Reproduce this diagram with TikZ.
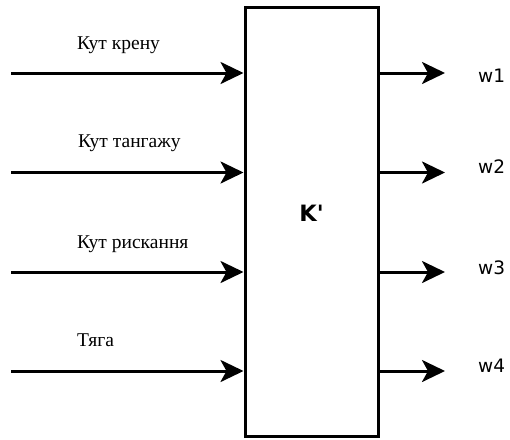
\documentclass[tikz,border=0pt]{standalone}
\usepackage{fontspec}
\setmainfont{Liberation Serif}
\newfontfamily\dvs{DejaVu Sans}
\usetikzlibrary{arrows.meta}
\begin{document}
\begin{tikzpicture}[x=1pt,y=-1pt,
  arr/.style={line width=3pt,-{Stealth[length=23pt,width=22pt,inset=6pt]}},
  inlabel/.style={anchor=base west,inner sep=0pt,font=\fontsize{19.5}{21}\selectfont},
  outlabel/.style={anchor=base west,inner sep=0pt,font=\dvs\fontsize{18.5}{20}\selectfont},
  box/.style={draw,line width=3pt,minimum width=133pt,minimum height=429pt,inner sep=0pt}]
\useasboundingbox (0,0) rectangle (510,439);
\node[box] (K) at (311.5,221.5) {};
\node[anchor=base,inner sep=0pt,font=\dvs\bfseries\fontsize{22.5}{24}\selectfont] (Kl) at (311.5,221) {K'};
% inputs
\coordinate (i1) at (11,73);
\coordinate (i2) at (11,172.5);
\coordinate (i3) at (11,272);
\coordinate (i4) at (11,371);
\foreach \i in {1,2,3,4} \draw[arr] (i\i) -- (i\i -| K.west);
\node[inlabel] (l1) at (77,49) {Кут крену};
\node[inlabel] (l2) at (78,147) {Кут тангажу};
\node[inlabel] (l3) at (77,248) {Кут рискання};
\node[inlabel] (l4) at (77,346) {Тяга};
% outputs
\coordinate (o1) at (445,73);
\coordinate (o2) at (445,172.5);
\coordinate (o3) at (445,272);
\coordinate (o4) at (445,371);
\foreach \i in {1,2,3,4} \draw[arr] (o\i -| K.east) -- (o\i);
\node[outlabel] (w1) at (478,82) {w1};
\node[outlabel] (w2) at (478,173) {w2};
\node[outlabel] (w3) at (478,274) {w3};
\node[outlabel] (w4) at (478,372) {w4};
\end{tikzpicture}
\end{document}
